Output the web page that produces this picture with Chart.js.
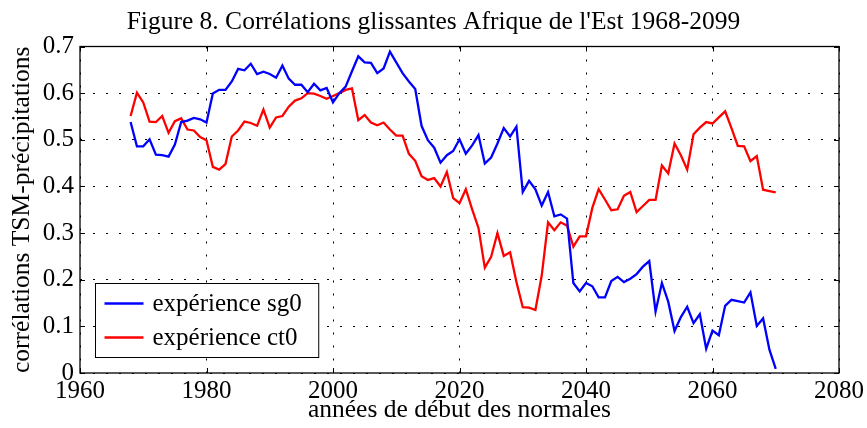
<!DOCTYPE html>
<html>
<head>
<meta charset="utf-8">
<script src="https://cdn.jsdelivr.net/npm/chart.js@4.4.1/dist/chart.umd.min.js"></script>
<style>
  html, body { margin: 0; padding: 0; background: #fff; }
  #wrap { width: 867px; height: 428px; }
</style>
</head>
<body>
<div id="wrap"><canvas id="c" width="867" height="428"></canvas></div>
<script>
// ---------------- DATA ----------------
const titleText = "Figure 8. Corrélations glissantes Afrique de l'Est 1968-2099";
const xTitle = "années de début des normales";
const yTitle = "corrélations TSM-précipitations";
const seriesLabels = ["expérience sg0", "expérience ct0"];

const years = [
  1968,1969,1970,1971,1972,1973,1974,1975,1976,1977,1978,1979,
  1980,1981,1982,1983,1984,1985,1986,1987,1988,1989,
  1990,1991,1992,1993,1994,1995,1996,1997,1998,1999,
  2000,2001,2002,2003,2004,2005,2006,2007,2008,2009,
  2010,2011,2012,2013,2014,2015,2016,2017,2018,2019,
  2020,2021,2022,2023,2024,2025,2026,2027,2028,2029,
  2030,2031,2032,2033,2034,2035,2036,2037,2038,2039,
  2040,2041,2042,2043,2044,2045,2046,2047,2048,2049,
  2050,2051,2052,2053,2054,2055,2056,2057,2058,2059,
  2060,2061,2062,2063,2064,2065,2066,2067,2068,2069,
  2070
];

const sg0 = [
  0.538,0.486,0.486,0.501,0.468,0.467,0.464,0.490,0.538,0.541,0.547,0.544,
  0.537,0.599,0.607,0.607,0.625,0.652,0.649,0.663,0.641,0.646,
  0.641,0.633,0.659,0.631,0.618,0.618,0.602,0.620,0.606,0.611,
  0.580,0.600,0.614,0.647,0.679,0.666,0.665,0.643,0.653,0.689,
  0.666,0.643,0.625,0.609,0.530,0.499,0.483,0.451,0.467,0.476,
  0.501,0.470,0.488,0.510,0.449,0.462,0.492,0.525,0.507,0.528,
  0.388,0.412,0.394,0.359,0.388,0.336,0.340,0.331,0.193,0.175,
  0.193,0.186,0.162,0.162,0.197,0.206,0.195,0.202,0.212,0.228,
  0.240,0.132,0.193,0.153,0.090,0.120,0.142,0.107,0.126,0.052,
  0.091,0.081,0.144,0.157,0.154,0.151,0.173,0.101,0.117,0.050,
  0.009
];

const ct0 = [
  0.551,0.601,0.580,0.539,0.538,0.551,0.515,0.540,0.546,0.522,0.520,0.506,
  0.499,0.442,0.436,0.448,0.507,0.520,0.539,0.536,0.530,0.565,
  0.526,0.548,0.551,0.571,0.584,0.589,0.600,0.599,0.594,0.588,
  0.594,0.600,0.607,0.610,0.542,0.553,0.537,0.531,0.537,0.522,
  0.509,0.509,0.470,0.455,0.422,0.414,0.418,0.400,0.431,0.375,
  0.364,0.394,0.351,0.311,0.226,0.249,0.300,0.251,0.259,0.195,
  0.141,0.140,0.135,0.209,0.323,0.306,0.323,0.316,0.271,0.293,
  0.293,0.354,0.394,0.372,0.349,0.351,0.380,0.388,0.345,0.358,
  0.371,0.371,0.445,0.428,0.492,0.467,0.436,0.512,0.526,0.538,
  0.535,0.548,0.561,0.525,0.487,0.486,0.454,0.465,0.393,0.390,
  0.387
];

const xTickLabels = ["1960","1980","2000","2020","2040","2060","2080"];
const yTickLabels = ["0","0.1","0.2","0.3","0.4","0.5","0.6","0.7"];

// ---------------- STYLE ----------------
const FONT = "'Liberation Serif', 'Times New Roman', Times, serif";
const FS = 25;       // tick labels + legend
const FT = 25.5;     // titles
Chart.defaults.font.family = FONT;
Chart.defaults.font.size = FS;
Chart.defaults.color = '#000';

const toPoints = (xs, ys) => xs.map((x, i) => ({ x: x, y: ys[i] }));

// Frame + inward ticks (Matlab-like box)
const framePlugin = {
  id: 'frame',
  afterDraw(chart) {
    const { ctx, chartArea: ca, scales } = chart;
    ctx.save();
    ctx.strokeStyle = '#000';
    ctx.lineWidth = 1.3;
    ctx.setLineDash([]);
    ctx.strokeRect(ca.left, ca.top, ca.right - ca.left, ca.bottom - ca.top);
    const tl = 5;
    ctx.lineWidth = 1;
    ctx.beginPath();
    scales.x.ticks.forEach(t => {
      const px = Math.round(scales.x.getPixelForValue(t.value)) + 0.5;
      ctx.moveTo(px, ca.bottom); ctx.lineTo(px, ca.bottom - tl);
      ctx.moveTo(px, ca.top); ctx.lineTo(px, ca.top + tl);
    });
    scales.y.ticks.forEach(t => {
      const py = Math.round(scales.y.getPixelForValue(t.value)) + 0.5;
      ctx.moveTo(ca.left, py); ctx.lineTo(ca.left + tl, py);
      ctx.moveTo(ca.right, py); ctx.lineTo(ca.right - tl, py);
    });
    ctx.stroke();
    ctx.restore();
  }
};

// Legend box inside plot, bottom-left
const boxLegendPlugin = {
  id: 'boxLegend',
  afterDraw(chart) {
    const { ctx, chartArea: ca } = chart;
    const ds = chart.data.datasets;
    ctx.save();
    ctx.font = FS + 'px ' + FONT;
    const tw = Math.max(...ds.map(d => ctx.measureText(d.label).width));
    const padL = 9, lineLen = 39, gap = 9, padR = 17, rowH = 34, padV = 3;
    const w = padL + lineLen + gap + tw + padR;
    const h = ds.length * rowH + 2 * padV;
    const x0 = Math.round(ca.left + 15) + 0.5;
    const y0 = Math.round(ca.bottom - 16 - h) + 0.5;
    ctx.fillStyle = '#fff';
    ctx.fillRect(x0, y0, w, h);
    ctx.strokeStyle = '#000';
    ctx.lineWidth = 1;
    ctx.strokeRect(x0, y0, w, h);
    ds.forEach((d, i) => {
      const cy = y0 + padV + rowH * i + rowH / 2;
      ctx.strokeStyle = d.borderColor;
      ctx.lineWidth = 2.3;
      ctx.beginPath();
      ctx.moveTo(x0 + padL, cy);
      ctx.lineTo(x0 + padL + lineLen, cy);
      ctx.stroke();
      ctx.fillStyle = '#000';
      ctx.textBaseline = 'middle';
      ctx.textAlign = 'left';
      ctx.fillText(d.label, x0 + padL + lineLen + gap, cy + 1);
    });
    ctx.restore();
  }
};

const gridCommon = { color: '#000', lineWidth: 1, drawTicks: false };
const borderCommon = { display: false, dash: [2, 11] };

new Chart(document.getElementById('c').getContext('2d'), {
  type: 'line',
  data: {
    datasets: [
      { label: seriesLabels[0], data: toPoints(years, sg0), borderColor: '#0000ff', backgroundColor: '#0000ff',
        borderWidth: 2.3, pointRadius: 0, tension: 0, fill: false },
      { label: seriesLabels[1], data: toPoints(years, ct0), borderColor: '#ff0000', backgroundColor: '#ff0000',
        borderWidth: 2.3, pointRadius: 0, tension: 0, fill: false }
    ]
  },
  options: {
    responsive: false,
    animation: false,
    events: [],
    layout: { padding: { left: 0, right: 0, top: 0, bottom: 0 } },
    plugins: {
      legend: { display: false },
      tooltip: { enabled: false },
      title: { display: true, text: titleText, color: '#000',
               font: { size: FT, weight: 'normal', family: FONT },
               padding: { top: 6.5, bottom: 9.4 } }
    },
    scales: {
      x: {
        type: 'linear', min: 1960, max: 2080,
        ticks: { stepSize: 20, padding: 3, color: '#000',
                 callback: (v) => xTickLabels[Math.round((v - 1960) / 20)] },
        grid: gridCommon,
        border: borderCommon,
        title: { display: true, text: xTitle, color: '#000', font: { size: FT, family: FONT },
                 padding: { top: 0, bottom: 2.7 } },
        afterFit(s) { s.height = 55; }
      },
      y: {
        min: 0, max: 0.7,
        ticks: { stepSize: 0.1, padding: 6, color: '#000',
                 callback: (v) => yTickLabels[Math.round(v * 10)] },
        grid: gridCommon,
        border: borderCommon,
        title: { display: true, text: yTitle, color: '#000', font: { size: FT, family: FONT },
                 padding: { top: 6.7, bottom: 0 } },
        afterFit(s) { s.width = 80; }
      },
      yRight: {
        position: 'right', min: 0, max: 0.7,
        grid: { display: false, drawTicks: false },
        ticks: { display: false },
        border: { display: false },
        afterFit(s) { s.width = 27; }
      }
    }
  },
  plugins: [framePlugin, boxLegendPlugin]
});
</script>
</body>
</html>
